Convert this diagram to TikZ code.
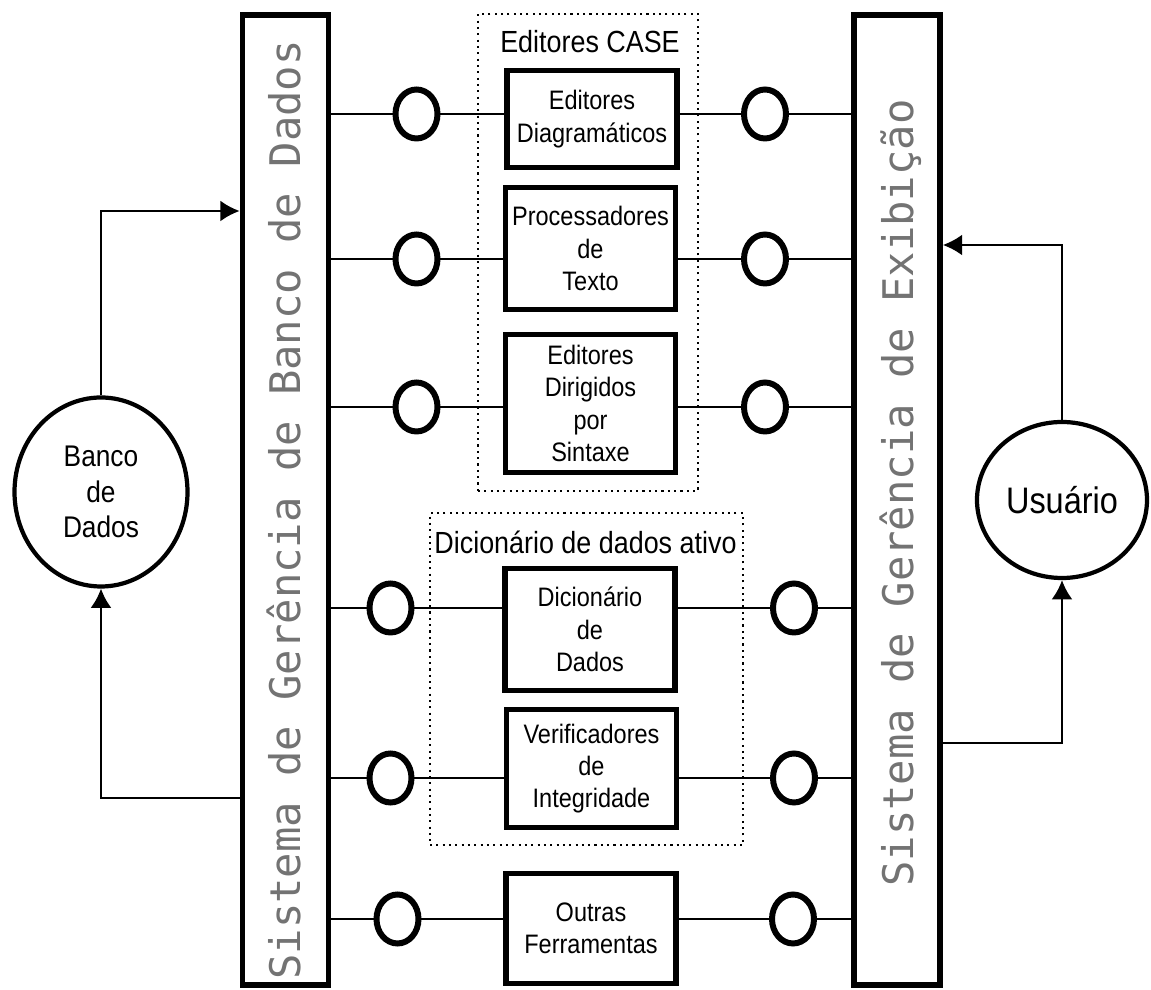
\documentclass[tikz,border=0pt]{standalone}
\usepackage{fontspec}
\setmainfont{Liberation Sans}[FakeStretch=0.88]
\setmonofont{DejaVu Sans Mono}
\usepackage{tikz}
\usetikzlibrary{arrows.meta,shapes.geometric}

\begin{document}
\begin{tikzpicture}[>={Latex[length=5.5pt,width=6pt]},
    bar/.style={draw,line width=1.6pt,minimum width=0.86cm,minimum height=9.70cm},
    barlabel/.style={rotate=90,anchor=base,inner sep=0pt,text=black!55,font=\ttfamily\fontsize{12}{12}\selectfont},
    tool/.style={draw,line width=1.6pt,minimum width=1.70cm,align=center,inner sep=0pt,font=\fontsize{7.6}{9.2}\selectfont},
    group/.style={draw,line width=0.6pt,dash pattern=on 0.6pt off 1.2pt},
    grouptitle/.style={font=\fontsize{8.7}{10}\selectfont},
    port/.style={draw,ellipse,line width=1.7pt,minimum width=0.42cm,minimum height=0.49cm,inner sep=0pt},
    ext/.style={draw,ellipse,line width=1.2pt,align=center,inner sep=0pt},
    link/.style={line width=0.6pt},
    flow/.style={->,line width=0.75pt}]
    \useasboundingbox (0,0) rectangle (11.51,9.90);
    % the two managing systems
    \node[bar] (sgbd) at (2.855,4.90) {};
    \node[bar] (sge) at (8.97,4.90) {};
    \node[barlabel] (sgbdtxt) at (3.00,4.80) {Sistema de Gerência de Banco de Dados};
    \node[barlabel] (sgetxt) at (9.13,4.97) {Sistema de Gerência de Exibição};
    % tool groups
    \node[group,minimum width=2.20cm,minimum height=4.77cm] (case) at (5.88,7.375) {};
    \node[grouptitle] (casetxt) at (5.90,9.48) {Editores CASE};
    \node[group,minimum width=3.13cm,minimum height=3.32cm] (dda) at (5.865,3.11) {};
    \node[grouptitle] (ddatxt) at (5.855,4.48) {Dicionário de dados ativo};
    % tools
    \node[tool,minimum height=0.97cm] (t1) at (5.92,8.71) {Editores\\Diagramáticos};
    \node[tool,minimum height=1.22cm] (t2) at (5.905,7.415) {Processadores\\de\\Texto};
    \node[tool,minimum height=1.38cm] (t3) at (5.905,5.865) {Editores\\Dirigidos\\por\\Sintaxe};
    \node[tool,minimum height=1.22cm] (t4) at (5.90,3.605) {Dicionário\\de\\Dados};
    \node[tool,minimum height=1.18cm] (t5) at (5.915,2.215) {Verificadores\\de\\Integridade};
    \node[tool,minimum height=1.10cm] (t6) at (5.91,0.615) {Outras\\Ferramentas};
    % interface ports
    \node[port] (pl1) at (4.165,8.76) {}; \node[port] (pr1) at (7.65,8.76) {};
    \node[port] (pl2) at (4.165,7.31) {}; \node[port] (pr2) at (7.65,7.31) {};
    \node[port] (pl3) at (4.165,5.83) {}; \node[port] (pr3) at (7.65,5.83) {};
    \node[port] (pl4) at (3.905,3.82) {}; \node[port] (pr4) at (7.94,3.82) {};
    \node[port] (pl5) at (3.905,2.12) {}; \node[port] (pr5) at (7.94,2.12) {};
    \node[port] (pl6) at (3.975,0.71) {}; \node[port] (pr6) at (7.93,0.71) {};
    \draw[link] (sgbd.east |- pl1) -- (pl1) -- (pl1 -| t1.west); \draw[link] (t1.east |- pr1) -- (pr1) -- (pr1 -| sge.west);
    \draw[link] (sgbd.east |- pl2) -- (pl2) -- (pl2 -| t2.west); \draw[link] (t2.east |- pr2) -- (pr2) -- (pr2 -| sge.west);
    \draw[link] (sgbd.east |- pl3) -- (pl3) -- (pl3 -| t3.west); \draw[link] (t3.east |- pr3) -- (pr3) -- (pr3 -| sge.west);
    \draw[link] (sgbd.east |- pl4) -- (pl4) -- (pl4 -| t4.west); \draw[link] (t4.east |- pr4) -- (pr4) -- (pr4 -| sge.west);
    \draw[link] (sgbd.east |- pl5) -- (pl5) -- (pl5 -| t5.west); \draw[link] (t5.east |- pr5) -- (pr5) -- (pr5 -| sge.west);
    \draw[link] (sgbd.east |- pl6) -- (pl6) -- (pl6 -| t6.west); \draw[link] (t6.east |- pr6) -- (pr6) -- (pr6 -| sge.west);
    % data base and user
    \node[ext,minimum width=1.73cm,minimum height=1.89cm,font=\fontsize{8.5}{10}\selectfont] (bd) at (1.01,4.98) {Banco\\de\\Dados};
    \node[ext,minimum width=1.70cm,minimum height=1.56cm,font=\fontsize{10.5}{12}\selectfont] (usr) at (10.62,4.90) {Usuário};
    \coordinate (bdin) at (0,7.79); \coordinate (bdout) at (0,1.92);
    \coordinate (usrin) at (0,2.47); \coordinate (usrout) at (0,7.45);
    \draw[flow] (bd.north) -- (bd.north |- bdin) -- (bdin -| sgbd.west);
    \draw[flow] (bdout -| sgbd.west) -- (bd.south |- bdout) -- (bd.south);
    \draw[flow] (sge.east |- usrin) -- (usr.south |- usrin) -- (usr.south);
    \draw[flow] (usr.north) -- (usr.north |- usrout) -- (usrout -| sge.east);
\end{tikzpicture}
\end{document}
